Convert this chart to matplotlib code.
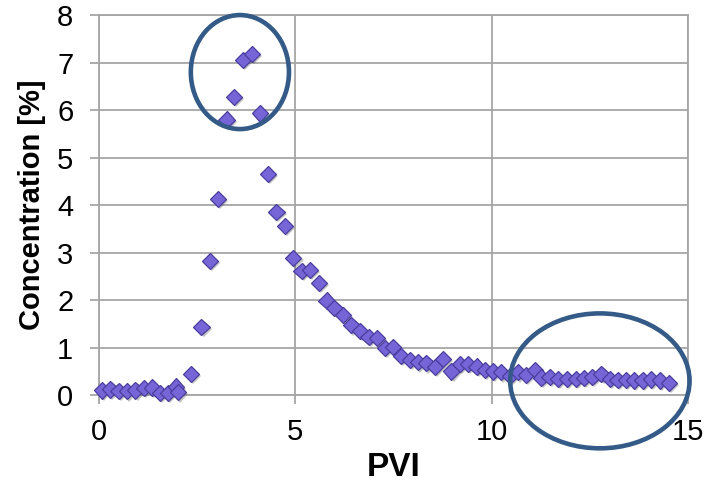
import numpy as np
import matplotlib.pyplot as plt
from matplotlib.patches import Ellipse
import matplotlib.patheffects as pe

# PVI / concentration readings
pvi = [0.07, 0.29, 0.50, 0.72, 0.93, 1.15, 1.36, 1.55, 1.75, 1.96, 2.02,
       2.34, 2.61, 2.83, 3.03, 3.25, 3.44, 3.67, 3.89, 4.10, 4.31, 4.52, 4.74,
       4.95, 5.16, 5.37, 5.60, 5.80, 6.00, 6.22, 6.43, 6.65, 6.87, 7.08, 7.28,
       7.49, 7.70, 7.92, 8.12, 8.34, 8.56, 8.77, 8.98, 9.19, 9.40, 9.62, 9.83,
       10.04, 10.25, 10.47, 10.68, 10.87, 11.10, 11.27, 11.48, 11.69, 11.92,
       12.15, 12.35, 12.57, 12.80, 13.01, 13.21, 13.42, 13.63, 13.85, 14.06,
       14.29, 14.52]
conc = [0.10, 0.12, 0.09, 0.08, 0.10, 0.15, 0.16, 0.05, 0.05, 0.18, 0.06,
        0.44, 1.43, 2.83, 4.13, 5.80, 6.27, 7.05, 7.18, 5.93, 4.65, 3.85, 3.56,
        2.88, 2.61, 2.63, 2.36, 1.99, 1.83, 1.68, 1.47, 1.35, 1.22, 1.20, 0.99,
        1.02, 0.82, 0.74, 0.69, 0.67, 0.59, 0.76, 0.50, 0.65, 0.65, 0.60, 0.53,
        0.50, 0.48, 0.40, 0.48, 0.42, 0.53, 0.37, 0.38, 0.34, 0.34,
        0.34, 0.36, 0.38, 0.45, 0.34, 0.32, 0.32, 0.31, 0.31, 0.33,
        0.31, 0.26]

# highlighted regions: (center x, center y, width, height) in data units
circles = [(3.59, 6.8, 2.5, 2.4), (12.76, 0.3, 4.57, 2.84)]

fig = plt.figure(figsize=(7.12, 4.86), dpi=100)
ax = fig.add_axes([0.139, 0.187, 0.827, 0.782])

grid_col = '#a6a6a6'
ax.set_xlim(0, 15)
ax.set_ylim(0, 8)
ax.set_xticks([0, 5, 10, 15])
ax.set_yticks(range(0, 9))
ax.grid(True, color=grid_col, lw=1.3)
ax.set_axisbelow(True)
for s in ax.spines.values():
    s.set_color(grid_col)
    s.set_linewidth(1.3)
ax.tick_params(colors=grid_col, length=6.5, width=1.3, labelcolor='black')
ax.tick_params(axis='x', pad=10)
ax.tick_params(axis='y', pad=12)

tick_font = ['Liberation Sans Narrow', 'Liberation Sans']
for lab in ax.get_xticklabels() + ax.get_yticklabels():
    lab.set_family(tick_font)
    lab.set_fontsize(21)

ax.plot(pvi, conc, 'D', ms=8.3, mfc='#7565d6', mec='#4a3d9e', mew=0.9,
        clip_on=False, zorder=3,
        path_effects=[pe.SimplePatchShadow(offset=(1.5, -1.5), shadow_rgbFace='#555555', alpha=0.35),
                      pe.Normal()])

for cx, cy, w, h in circles:
    ax.add_patch(Ellipse((cx, cy), w, h, fill=False, ec='#345a87', lw=3.3,
                         clip_on=False, zorder=4))

ax.set_xlabel('PVI', family=tick_font, fontsize=24, fontweight='bold', labelpad=4)
ax.set_ylabel('Concentration [%]', family='Liberation Sans', fontsize=21,
              fontweight='bold', labelpad=8)

fig.savefig('out.png', dpi=100)
